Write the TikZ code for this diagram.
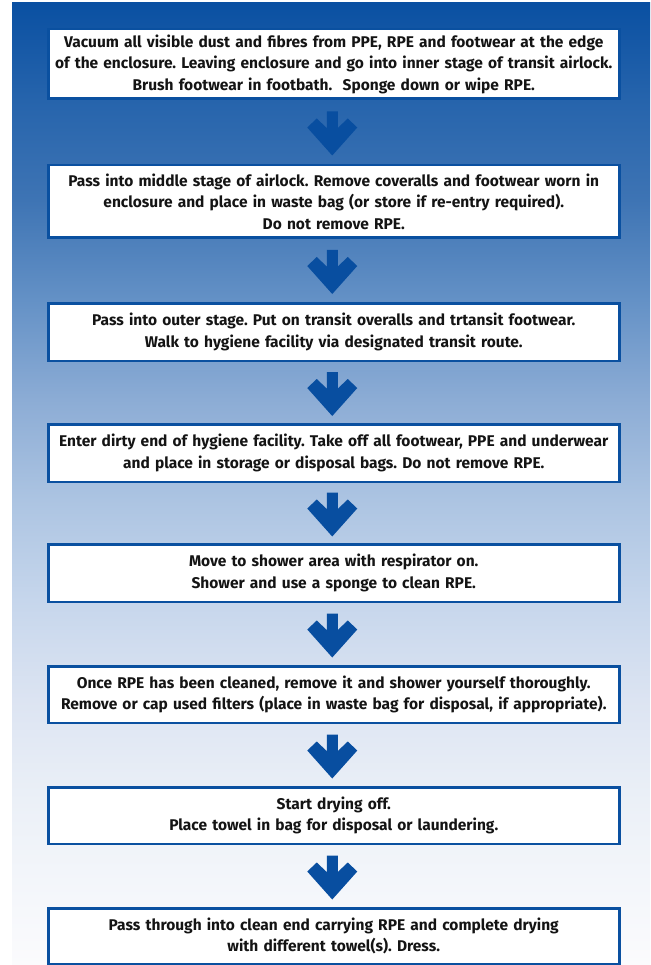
\documentclass[tikz,border=0pt]{standalone}
\usepackage{fontspec}
\setmainfont{Fira Sans}
\frenchspacing
\usetikzlibrary{calc}
\definecolor{edge}{RGB}{10,80,160}
\definecolor{arrowc}{RGB}{8,78,160}
\definecolor{txt}{RGB}{20,20,20}
\pgfdeclareverticalshading{bgshade}{100bp}{%
rgb(0bp)=(0.984,0.984,0.992);
rgb(25bp)=(0.984,0.984,0.992);
rgb(28.38bp)=(0.961,0.969,0.984);
rgb(33.58bp)=(0.922,0.941,0.969);
rgb(38.77bp)=(0.863,0.894,0.949);
rgb(43.97bp)=(0.776,0.839,0.925);
rgb(49.17bp)=(0.675,0.769,0.886);
rgb(54.37bp)=(0.549,0.675,0.835);
rgb(59.56bp)=(0.392,0.569,0.776);
rgb(64.76bp)=(0.243,0.455,0.706);
rgb(69.96bp)=(0.149,0.392,0.675);
rgb(75bp)=(0.039,0.314,0.635);
rgb(100bp)=(0.039,0.314,0.635)}
\tikzset{
  stepbox/.style={draw=edge, line width=2.5pt, fill=white, minimum width=571pt,
    text width=568pt, align=center, inner sep=0pt,
    font=\fontsize{15.5}{21.5}\selectfont\bfseries, text=txt},
  downarrow/.pic={\fill[arrowc] (-5.5,-22) -- (5.5,-22) -- (5.5,-5.5) -- (15.5,-15) -- (25,-6)
     -- (0,22) -- (-25,-6) -- (-15.5,-15) -- (-5.5,-5.5) -- cycle;}
}
\begin{document}
\begin{tikzpicture}[x=1pt,y=-1pt]
\useasboundingbox (0,0) rectangle (650,965);
\shade[shading=bgshade] (12,3) rectangle (650,965);
\node[stepbox, minimum height=69.5pt] (b1) at (333.75,64) {Vacuum all visible dust and fibres from PPE, RPE and footwear at the edge\\ of the enclosure. Leaving enclosure and go into inner stage of transit airlock.\\ Brush footwear in footbath.\ \ Sponge down or wipe RPE.};
\node[stepbox, minimum height=72.5pt] (b2) at (333.75,201.5) {Pass into middle stage of airlock. Remove coveralls and footwear worn in\\ enclosure and place in waste bag (or store if re-entry required).\\ Do not remove RPE.};
\node[stepbox, minimum height=57.5pt] (b3) at (333.75,332) {Pass into outer stage. Put on transit overalls and trtansit footwear.\\ Walk to hygiene facility via designated transit route.};
\node[stepbox, minimum height=57.5pt] (b4) at (333.75,453) {Enter dirty end of hygiene facility. Take off all footwear, PPE and underwear\\ and place in storage or disposal bags. Do not remove RPE.};
\node[stepbox, minimum height=57.5pt] (b5) at (333.75,573) {Move to shower area with respirator on.\\ Shower and use a sponge to clean RPE.};
\node[stepbox, minimum height=56.5pt] (b6) at (333.75,694.5) {Once RPE has been cleaned, remove it and shower yourself thoroughly.\\ Remove or cap used filters (place in waste bag for disposal, if appropriate).};
\node[stepbox, minimum height=56.5pt] (b7) at (333.75,815.5) {Start drying off.\\ Place towel in bag for disposal or laundering.};
\node[stepbox, minimum height=55.5pt] (b8) at (333.75,936) {Pass through into clean end carrying RPE and complete drying\\ with different towel(s). Dress.};
\foreach \a/\b in {b1/b2,b2/b3,b3/b4,b4/b5,b5/b6,b6/b7,b7/b8}
  \pic at ($(\a.south)!0.5!(\b.north)+(-1.5,1.5)$) {downarrow};
\end{tikzpicture}
\end{document}
